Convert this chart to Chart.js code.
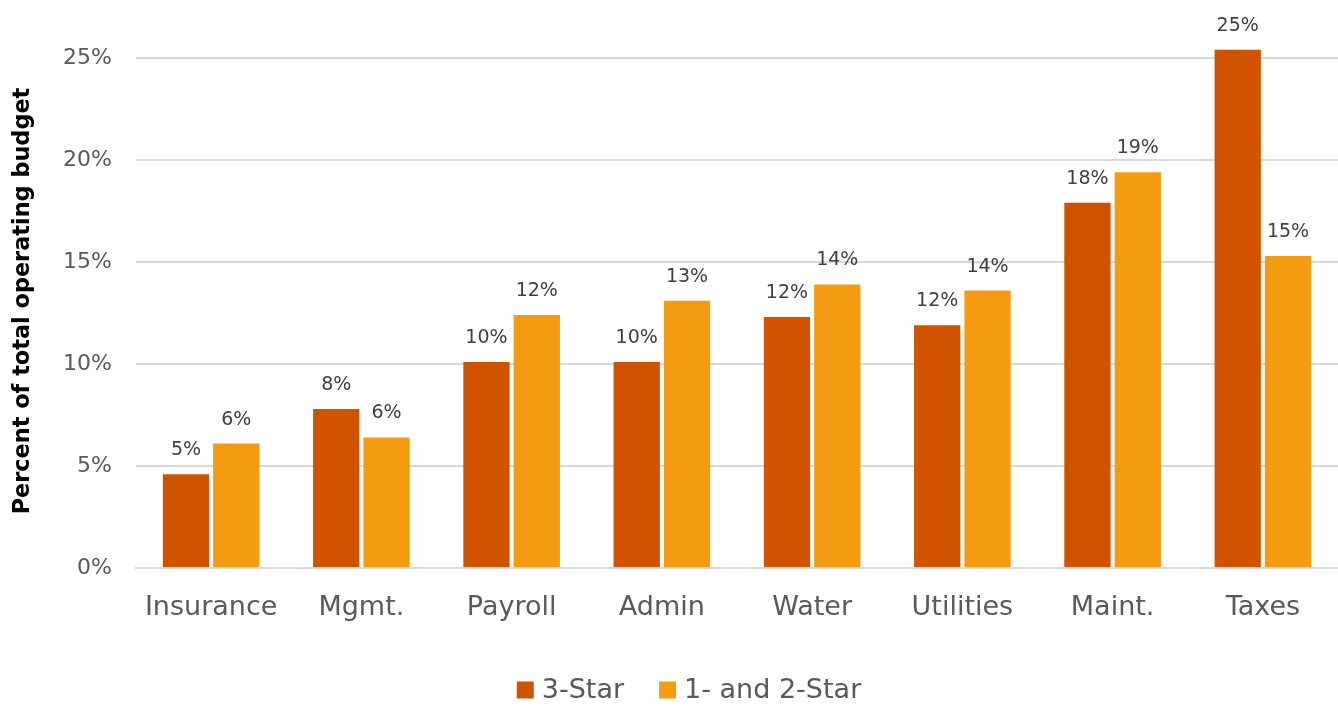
<!DOCTYPE html>
<html>
<head>
<meta charset="utf-8">
<script src="https://cdn.jsdelivr.net/npm/chart.js@4.4.1/dist/chart.umd.min.js"></script>
<style>
html,body{margin:0;padding:0;background:#fff;}
#wrap{width:1338px;height:706px;position:relative;}
</style>
</head>
<body>
<div id="wrap"><canvas id="c" width="1338" height="706"></canvas></div>
<script>
const categories = ["Insurance","Mgmt.","Payroll","Admin","Water","Utilities","Maint.","Taxes"];
const threeStar = [4.6, 7.8, 10.1, 10.1, 12.3, 11.9, 17.9, 25.4];
const oneTwoStar = [6.1, 6.4, 12.4, 13.1, 13.9, 13.6, 19.4, 15.3];
const seriesNames = ["3-Star", "1- and 2-Star"];
const yTicks = [0, 5, 10, 15, 20, 25];
const yTitle = "Percent of total operating budget";

const FONT = "'DejaVu Sans', sans-serif";

const dataLabels = {
  id: 'dataLabels',
  afterDatasetsDraw(chart) {
    const ctx = chart.ctx;
    ctx.save();
    ctx.font = "19px " + FONT;
    ctx.fillStyle = "#404040";
    ctx.textAlign = "center";
    ctx.textBaseline = "alphabetic";
    chart.data.datasets.forEach((ds, i) => {
      const meta = chart.getDatasetMeta(i);
      meta.data.forEach((bar, j) => {
        ctx.fillText(Math.round(ds.data[j]) + "%", bar.x, bar.y - 19);
      });
    });
    ctx.restore();
  }
};

const extras = {
  id: 'extras',
  afterDraw(chart) {
    const ctx = chart.ctx;
    // y-axis title
    ctx.save();
    ctx.font = "bold 22.4px " + FONT;
    ctx.fillStyle = "#000";
    ctx.textAlign = "center";
    ctx.textBaseline = "middle";
    ctx.translate(23, chart.chartArea.top + 243);
    ctx.rotate(-Math.PI / 2);
    ctx.fillText(yTitle, 0, 0);
    ctx.restore();
    // legend
    ctx.save();
    ctx.font = "27px " + FONT;
    ctx.textBaseline = "middle";
    ctx.textAlign = "left";
    const box = 17, gapText = 8, gapItem = 35;
    const items = chart.data.datasets.map(ds => ({ text: ds.label, color: ds.backgroundColor,
      w: box + gapText + ctx.measureText(ds.label).width }));
    const total = items.reduce((s, it) => s + it.w, 0) + gapItem * (items.length - 1);
    let x = (chart.width - total) / 2 + 20;
    const cy = chart.chartArea.bottom + 122;
    items.forEach(it => {
      ctx.fillStyle = it.color;
      ctx.fillRect(x, cy - box / 2, box, box);
      ctx.fillStyle = "#595959";
      ctx.fillText(it.text, x + box + gapText, cy + 1);
      x += it.w + gapItem;
    });
    ctx.restore();
  }
};

new Chart(document.getElementById('c'), {
  type: 'bar',
  data: {
    labels: categories,
    datasets: [
      { label: seriesNames[0], data: threeStar, backgroundColor: "#D05400", clip: false,
        categoryPercentage: 0.67, barPercentage: 0.92 },
      { label: seriesNames[1], data: oneTwoStar, backgroundColor: "#F39C12", clip: false,
        categoryPercentage: 0.67, barPercentage: 0.92 }
    ]
  },
  options: {
    responsive: false,
    animation: false,
    devicePixelRatio: 1,
    layout: { padding: { top: 58, right: 0, left: 10, bottom: 63 } },
    plugins: {
      tooltip: { enabled: false },
      legend: { display: false }
    },
    scales: {
      x: {
        grid: { display: false, drawTicks: false },
        border: { display: true, color: "#d9d9d9", width: 2 },
        ticks: { font: { family: FONT, size: 27 }, color: "#595959", padding: 24 },
        afterFit(scale) { scale.height = 75; }
      },
      y: {
        min: 0, max: 25,
        afterBuildTicks(scale) { scale.ticks = yTicks.map(v => ({ value: v })); },
        grid: { color: "#d9d9d9", lineWidth: 2, drawTicks: false },
        border: { display: false },
        ticks: { font: { family: FONT, size: 22 }, color: "#595959", padding: 24,
                 callback: v => v + "%" },
        afterFit(scale) { scale.width = 126; }
      }
    }
  },
  plugins: [dataLabels, extras]
});
</script>
</body>
</html>
